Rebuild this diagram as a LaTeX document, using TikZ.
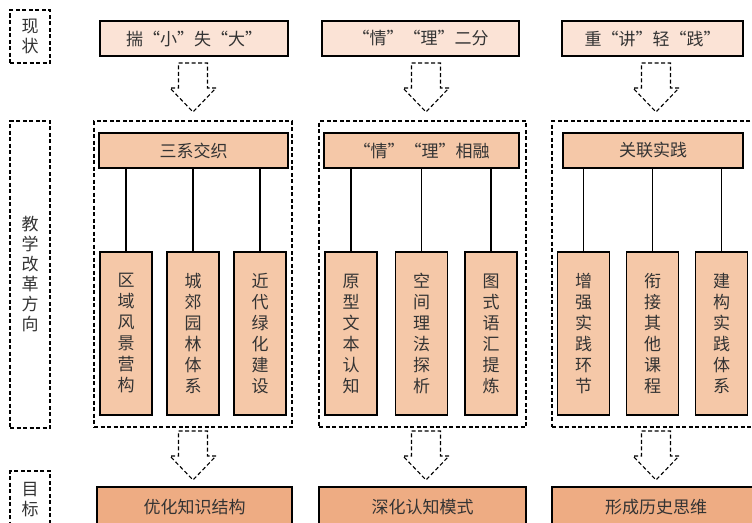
\documentclass[tikz,border=0pt]{standalone}
\usepackage{fontspec}
\setmainfont{Noto Sans CJK SC}
\definecolor{peachlight}{HTML}{FBE3D6}
\definecolor{peach}{HTML}{F5C8A8}
\definecolor{peachdark}{HTML}{EEAC83}
\definecolor{ink}{HTML}{333333}

\begin{document}
\begin{tikzpicture}
                \tikzset{x=1pt, y=-1pt}
                \tikzstyle{dashline}=[dash pattern=on 4pt off 2.5pt, line width=1.1pt]
                \tikzstyle{side}=[rectangle, draw, dashline, minimum width=40pt, inner sep=0pt, align=center, text=ink, font=\fontsize{17}{20}\selectfont]
                \tikzstyle{group}=[rectangle, draw, dashline, minimum height=306pt, inner sep=0pt]
                \tikzstyle{now}=[rectangle, draw, line width=1.3pt, fill=peachlight, minimum height=35pt, text=ink, font=\fontsize{17}{20}\selectfont]
                \tikzstyle{head}=[rectangle, draw, line width=1.3pt, fill=peach, minimum height=35pt, text=ink, font=\fontsize{17}{20}\selectfont]
                \tikzstyle{leaf}=[rectangle, draw, line width=1.3pt, fill=peach, minimum width=52pt, minimum height=163pt, inner sep=0pt, align=center, text=ink, font=\fontsize{17}{21}\selectfont]
                \tikzstyle{goal}=[rectangle, draw, line width=1.3pt, fill=peachdark, minimum height=40pt, text=ink, font=\fontsize{17}{20}\selectfont]
                \tikzset{hollow/.pic={
                    \draw[dashline, fill=white] (-14.5,-24.5) -- (14.5,-24.5) -- (14.5,0.5) -- (23,0.5)
                        -- (0,24.5) -- (-23,0.5) -- (-14.5,0.5) -- cycle;}}

                \useasboundingbox (0,0) rectangle (752,522);
                \clip (0,0) rectangle (752,522);

                % left column
                \draw (30.0, 36.5)      node[side, minimum height=53pt]     (now)   {现\\状};
                \draw (30.0, 274.5)     node[side, minimum height=307pt]    (dir)   {教\\学\\改\\革\\方\\向};
                \draw (30.0, 500.0)     node[side, minimum height=58pt]     (aim)   {目\\标};

                % present state
                \draw (194.0, 38.5)     node[now, minimum width=188pt]      (now1)  {揣“小”失“大”};
                \draw (420.5, 38.5)     node[now, minimum width=197pt]      (now2)  {“情”“理”二分};
                \draw (652.5, 38.5)     node[now, minimum width=181pt]      (now3)  {重“讲”轻“践”};

                \draw (193.0, 87.5)     pic {hollow};
                \draw (426.0, 87.5)     pic {hollow};
                \draw (656.0, 87.5)     pic {hollow};

                % reform direction
                \draw (193.0, 274.0)    node[group, minimum width=198pt]    (g1)    {};
                \draw (422.5, 274.0)    node[group, minimum width=207pt]    (g2)    {};
                \draw (655.0, 274.0)    node[group, minimum width=206pt]    (g3)    {};

                \draw (193.5, 150.5)    node[head, minimum width=189pt]     (h1)    {三系交织};
                \draw (421.5, 150.5)    node[head, minimum width=195pt]     (h2)    {“情”“理”相融};
                \draw (653.0, 150.5)    node[head, minimum width=180pt]     (h3)    {关联实践};

                \draw (126.0, 333.5)    node[leaf]  (l11)   {区\\域\\风\\景\\营\\构};
                \draw (193.0, 333.5)    node[leaf]  (l12)   {城\\郊\\园\\林\\体\\系};
                \draw (260.0, 333.5)    node[leaf]  (l13)   {近\\代\\绿\\化\\建\\设};
                \draw (351.0, 333.5)    node[leaf]  (l21)   {原\\型\\文\\本\\认\\知};
                \draw (421.5, 333.5)    node[leaf]  (l22)   {空\\间\\理\\法\\探\\析};
                \draw (491.0, 333.5)    node[leaf]  (l23)   {图\\式\\语\\汇\\提\\炼};
                \draw (583.5, 333.5)    node[leaf]  (l31)   {增\\强\\实\\践\\环\\节};
                \draw (652.5, 333.5)    node[leaf]  (l32)   {衔\\接\\其\\他\\课\\程};
                \draw (721.5, 333.5)    node[leaf]  (l33)   {建\\构\\实\\践\\体\\系};

                \draw [line width=1.3pt]    (h1.south -| l11) -- (l11.north);
                \draw [line width=1.3pt]    (h1.south -| l12) -- (l12.north);
                \draw [line width=1.3pt]    (h1.south -| l13) -- (l13.north);
                \draw [line width=1.3pt]    (h2.south -| l21) -- (l21.north);
                \draw [line width=1.3pt]    (h2.south -| l22) -- (l22.north);
                \draw [line width=1.3pt]    (h2.south -| l23) -- (l23.north);
                \draw [line width=1.3pt]    (h3.south -| l31) -- (l31.north);
                \draw [line width=1.3pt]    (h3.south -| l32) -- (l32.north);
                \draw [line width=1.3pt]    (h3.south -| l33) -- (l33.north);

                \draw (193.0, 455.5)    pic {hollow};
                \draw (426.0, 455.5)    pic {hollow};
                \draw (656.0, 455.5)    pic {hollow};

                % goals
                \draw (194.5, 507.0)    node[goal, minimum width=195pt]     (goal1) {优化知识结构};
                \draw (422.5, 507.0)    node[goal, minimum width=207pt]     (goal2) {深化认知模式};
                \draw (656.0, 507.0)    node[goal, minimum width=208pt]     (goal3) {形成历史思维};
            \end{tikzpicture}
\end{document}
